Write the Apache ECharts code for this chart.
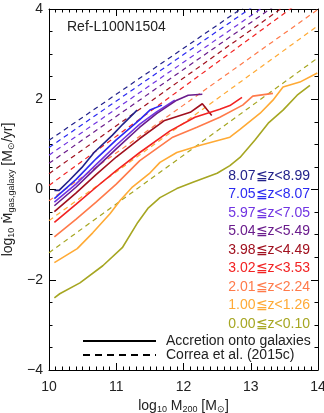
<!DOCTYPE html>
<html>
<head>
<meta charset="utf-8">
<script src="https://cdn.jsdelivr.net/npm/echarts@6/dist/echarts.min.js"></script>
<style>
  html, body { margin: 0; padding: 0; background: #fff; }
  #chart { width: 324px; height: 413px; }
</style>
</head>
<body>
<div id="chart"></div>
<script>
// redshift bins, highest first
const zLabels = ['8.07≦z<8.99', '7.05≦z<8.07', '5.97≦z<7.05', '5.04≦z<5.49',
  '3.98≦z<4.49', '3.02≦z<3.53', '2.01≦z<2.24', '1.00≦z<1.26', '0.00≦z<0.10'];
const zColors = ['#22228a', '#2a2af2', '#7034e2', '#6a1c8c',
  '#a0101e', '#f22222', '#ff7a4a', '#ffaa35', '#a6a622'];

// accretion onto galaxies (solid), [log M200, log Mdot]
const acc_z8 = [[10.08, -0.02], [10.15, -0.02], [10.3, 0.2], [10.49, 0.49], [10.67, 0.82], [10.94, 1.2], [11.1, 1.45], [11.31, 1.76]];
const acc_z7 = [[10.08, -0.2], [10.4, 0.22], [10.7, 0.68], [11.0, 1.1], [11.35, 1.55], [11.5, 1.76], [11.68, 1.87]];
const acc_z6 = [[10.08, -0.28], [10.4, 0.12], [10.7, 0.55], [11.0, 0.98], [11.35, 1.45], [11.6, 1.72], [11.87, 1.98]];
const acc_z5 = [[10.08, -0.36], [10.4, 0.05], [10.7, 0.48], [11.0, 0.9], [11.35, 1.38], [11.6, 1.68], [11.9, 1.98], [12.07, 2.09], [12.28, 2.11]];
const acc_z4 = [[10.08, -0.49], [10.4, -0.08], [10.7, 0.33], [11.0, 0.72], [11.35, 1.13], [11.72, 1.53], [12.1, 1.71], [12.28, 1.9], [12.42, 1.64]];
const acc_z3 = [[10.08, -0.73], [10.4, -0.33], [10.7, 0.05], [11.0, 0.42], [11.35, 0.82], [11.8, 1.3], [12.17, 1.6], [12.54, 1.78], [12.69, 1.86], [12.87, 2.04]];
const acc_z2 = [[10.08, -1.05], [10.4, -0.66], [10.7, -0.28], [11.0, 0.12], [11.35, 0.64], [11.84, 1.16], [12.2, 1.38], [12.54, 1.6], [12.88, 1.87], [13.03, 2.07], [13.33, 2.13]];
const acc_z1 = [[10.08, -1.62], [10.42, -1.31], [10.65, -0.96], [10.91, -0.53], [11.06, -0.24], [11.23, 0.04], [11.49, 0.35], [11.65, 0.6], [11.9, 0.82], [12.25, 0.98], [12.69, 1.16], [12.84, 1.33], [13.14, 1.69], [13.33, 1.98], [13.48, 2.27], [13.73, 2.38], [13.99, 2.58]];
const acc_z0 = [[10.08, -2.4], [10.16, -2.31], [10.46, -2.07], [10.8, -1.69], [11.09, -1.29], [11.32, -0.73], [11.47, -0.42], [11.65, -0.18], [11.9, 0.02], [12.14, 0.16], [12.5, 0.36], [12.69, 0.53], [12.84, 0.71], [13.06, 1.09], [13.26, 1.47], [13.48, 1.76], [13.69, 2.09], [13.88, 2.31]];

// Correa et al. (2015c) model (dashed)
const cor_z8 = [[10, 1.09], [12, 3.13], [14, 5.17]];
const cor_z7 = [[10, 0.93], [12, 2.99], [14, 5.05]];
const cor_z6 = [[10, 0.76], [12, 2.82], [14, 4.88]];
const cor_z5 = [[10, 0.58], [12, 2.66], [14, 4.74]];
const cor_z4 = [[10, 0.35], [12, 2.47], [14, 4.59]];
const cor_z3 = [[10, 0.09], [12, 2.27], [14, 4.45]];
const cor_z2 = [[10, -0.25], [12, 1.87], [14, 3.99]];
const cor_z1 = [[10, -0.69], [12, 1.47], [14, 3.63]];
const cor_z0 = [[10, -1.4], [12, 0.76], [14, 2.92]];

const accretion = [acc_z8, acc_z7, acc_z6, acc_z5, acc_z4, acc_z3, acc_z2, acc_z1, acc_z0];
const correa = [cor_z8, cor_z7, cor_z6, cor_z5, cor_z4, cor_z3, cor_z2, cor_z1, cor_z0];

const xTicks = [10, 11, 12, 13, 14];
const yTicks = [-4, -2, 0, 2, 4];

const FONT = 'Liberation Sans, Arial, sans-serif';

var series = [];
correa.forEach(function (d, i) {
  series.push({
    type: 'line', data: d, symbol: 'none', silent: true, clip: true,
    lineStyle: { color: zColors[i], width: 1.2, type: [5, 4] },
    z: 2
  });
});
accretion.forEach(function (d, i) {
  series.push({
    name: zLabels[i],
    type: 'line', data: d, symbol: 'none', silent: true,
    lineStyle: { color: zColors[i], width: 1.6 },
    z: 3
  });
});
// legend entries only
series.push({ name: 'Accretion onto galaxies', type: 'line', data: [], symbol: 'none',
  itemStyle: { color: '#000' }, lineStyle: { color: '#000', width: 1.5 } });
series.push({ name: 'Correa et al. (2015c)', type: 'line', data: [], symbol: 'none',
  itemStyle: { color: '#000' }, lineStyle: { color: '#000', width: 1.2, type: [7, 5] } });

var graphics = zLabels.map(function (t, i) {
  return {
    type: 'text', right: 14, top: 169 + i * 18.5,
    style: { text: t, fill: zColors[i], font: '14px ' + FONT, textAlign: 'right' }
  };
});

function axisCommon(showLabel) {
  return {
    axisLine: { onZero: false, lineStyle: { color: '#000', width: 1 } },
    axisTick: { inside: true, length: 7, lineStyle: { color: '#000' } },
    minorTick: { show: true, length: 3.5, lineStyle: { color: '#000' } },
    splitLine: { show: false },
    axisLabel: { show: showLabel, color: '#222', fontSize: 14, fontFamily: FONT }
  };
}

var subRich = {
  a: { fontSize: 14, fontFamily: FONT, color: '#222' },
  d: { fontSize: 13, fontFamily: 'DejaVu Sans', color: '#222' },
  s: { fontSize: 9, fontFamily: FONT, color: '#222', padding: [7, 0, 0, 0] }
};

var xMain = Object.assign(axisCommon(true), {
  type: 'value', min: xTicks[0], max: xTicks[xTicks.length - 1], interval: 1,
  position: 'bottom',
  name: '{a|log}{s|10}{a| M}{s|200}{a| [M}{s|⊙}{a|]}',
  nameLocation: 'middle', nameGap: 26,
  nameTextStyle: { rich: subRich }
});
xMain.minorTick.splitNumber = 10;
xMain.axisLabel.margin = 10;
var xTop = Object.assign(axisCommon(false), {
  type: 'value', min: 10, max: 14, interval: 1, position: 'top'
});
xTop.minorTick.splitNumber = 10;

var yMain = Object.assign(axisCommon(true), {
  type: 'value', min: yTicks[0], max: yTicks[yTicks.length - 1], interval: 2,
  position: 'left',
  name: '{a|log}{s|10}{a| }{d|Ṁ}{s|gas,galaxy}{a| [M}{s|⊙}{a|/yr]}',
  nameLocation: 'middle', nameGap: 32, nameRotate: 90,
  nameTextStyle: { rich: subRich }
});
yMain.minorTick.splitNumber = 4;
yMain.axisLabel.margin = 6;
yMain.axisLabel.formatter = function (v) { return String(v).replace('-', '−'); };
var yRight = Object.assign(axisCommon(false), {
  type: 'value', min: -4, max: 4, interval: 2, position: 'right'
});
yRight.minorTick.splitNumber = 4;

var chart = echarts.init(document.getElementById('chart'), null, { renderer: 'canvas' });
chart.setOption({
  animation: false,
  backgroundColor: '#fff',
  title: {
    text: 'Ref-L100N1504', left: 62, top: 15,
    textStyle: { fontSize: 14, fontWeight: 'normal', color: '#222', fontFamily: FONT }
  },
  grid: { left: 49, right: 6, top: 9, bottom: 43, outerBoundsMode: 'none', containLabel: false },
  xAxis: [xMain, xTop],
  yAxis: [yMain, yRight],
  legend: {
    data: ['Accretion onto galaxies', 'Correa et al. (2015c)'],
    orient: 'vertical', left: 82, top: 334, padding: 0,
    itemWidth: 73, itemHeight: 14, itemGap: 0,
    itemStyle: { color: 'rgba(0,0,0,0)', borderColor: 'rgba(0,0,0,0)', borderWidth: 0 },
    textStyle: { fontSize: 14, color: '#222', fontFamily: FONT, padding: [0, 0, 0, 5] },
    selectedMode: false
  },
  graphic: graphics,
  series: series
});
</script>
</body>
</html>
